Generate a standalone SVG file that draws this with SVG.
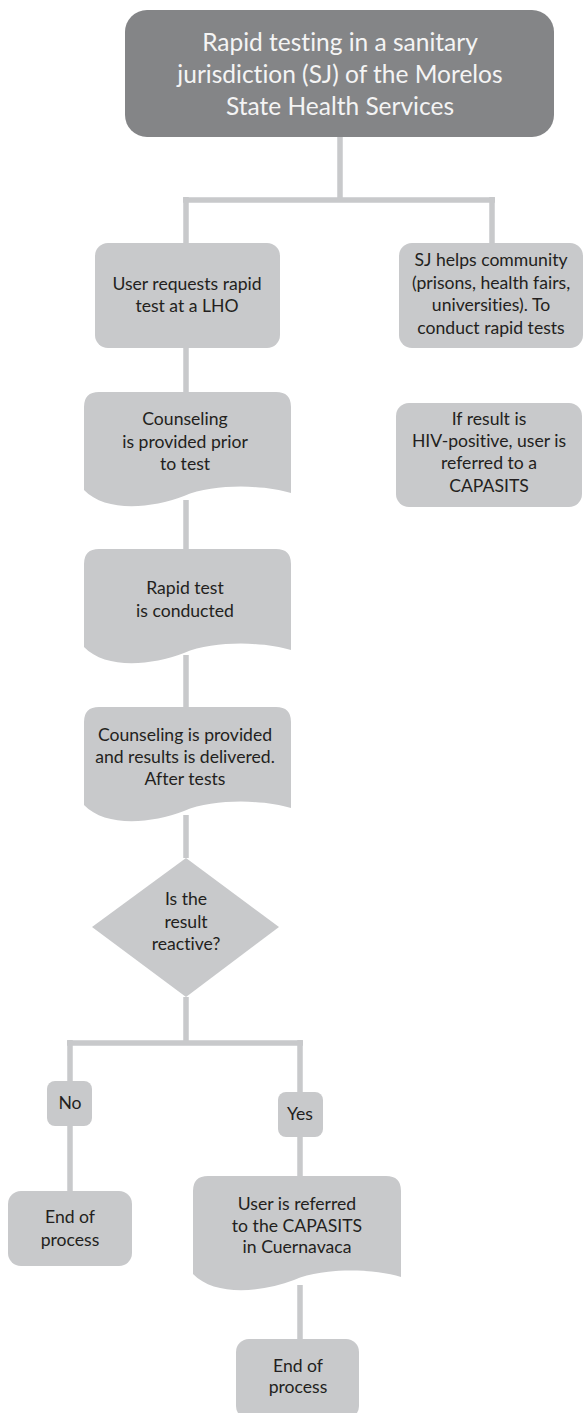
<svg xmlns="http://www.w3.org/2000/svg" width="583" height="1413" viewBox="0 0 583 1413">
<style>
.box{fill:#c8c9cb}
.dark{fill:#848587}
.t{font-family:Lato,"Liberation Sans",sans-serif;font-size:17.6px;fill:#231f20;text-anchor:middle;font-variant-ligatures:none}
.tw{font-family:Lato,"Liberation Sans",sans-serif;font-size:24.5px;fill:#f4f4f4;text-anchor:middle;font-variant-ligatures:none}
.c{stroke:#c8c9cb;stroke-width:5.5;fill:none}
</style>
<rect width="583" height="1413" fill="#ffffff"/>
<g id="connectors">
<path class="c" d="M340,137 V200 M183,200 H495 M186,197 V243 M492,197 V243"/>
<path class="c" d="M186,348 V392 M186,500 V549 M186,655 V707 M186,815 V858"/>
<path class="c" d="M186,997 V1043 M67,1043 H303 M70,1040 V1081 M300,1040 V1092"/>
<path class="c" d="M70,1126 V1191 M300,1137 V1176 M300,1285 V1339"/>
</g>
<g id="title">
<rect class="dark" x="125" y="10" width="429" height="127" rx="22"/>
<text class="tw" x="340" y="51">Rapid testing in a sanitary</text>
<text class="tw" x="340" y="83">jurisdiction (SJ) of the Morelos</text>
<text class="tw" x="340" y="115">State Health Services</text>
</g>
<g id="user-requests">
<rect class="box" x="95" y="243" width="185" height="105" rx="13"/>
<text class="t" x="187" y="290">User requests rapid</text>
<text class="t" x="187" y="312">test at a LHO</text>
</g>
<g id="sj-helps">
<rect class="box" x="399" y="243" width="184" height="105" rx="13"/>
<text class="t" x="491" y="266">SJ helps community</text>
<text class="t" x="491" y="289">(prisons, health fairs,</text>
<text class="t" x="491" y="311">universities). To</text>
<text class="t" x="491" y="334">conduct rapid tests</text>
</g>
<g id="if-result">
<rect class="box" x="396" y="403" width="186" height="104" rx="13"/>
<text class="t" x="489" y="425">If result is</text>
<text class="t" x="489" y="447">HIV-positive, user is</text>
<text class="t" x="489" y="469">referred to a</text>
<text class="t" x="489" y="492">CAPASITS</text>
</g>
<g id="counseling-prior">
<path class="box" d="M84,407 Q84,392 99,392 H276 Q291,392 291,407 V493 C265,485 215,483 184,496 C150,509 105,512 84,490 Z"/>
<text class="t" x="185" y="425">Counseling</text>
<text class="t" x="185" y="448">is provided prior</text>
<text class="t" x="185" y="470">to test</text>
</g>
<g id="rapid-test">
<path class="box" d="M84,564 Q84,549 99,549 H276 Q291,549 291,564 V650 C265,642 215,640 184,653 C150,666 105,669 84,647 Z"/>
<text class="t" x="185" y="594">Rapid test</text>
<text class="t" x="185" y="617">is conducted</text>
</g>
<g id="counseling-after">
<path class="box" d="M84,722 Q84,707 99,707 H276 Q291,707 291,722 V808 C265,800 215,798 184,811 C150,824 105,827 84,805 Z"/>
<text class="t" x="185" y="741">Counseling is provided</text>
<text class="t" x="185" y="763">and results is delivered.</text>
<text class="t" x="185" y="785">After tests</text>
</g>
<g id="decision">
<polygon class="box" points="186,858 279,927 186,997 92,927"/>
<text class="t" x="186" y="905">Is the</text>
<text class="t" x="186" y="928">result</text>
<text class="t" x="186" y="950">reactive?</text>
</g>
<g id="no">
<rect class="box" x="47" y="1081" width="45" height="45" rx="8"/>
<text class="t" x="70" y="1109">No</text>
</g>
<g id="yes">
<rect class="box" x="278" y="1092" width="45" height="45" rx="8"/>
<text class="t" x="300" y="1120">Yes</text>
</g>
<g id="end-no">
<rect class="box" x="8" y="1191" width="124" height="75" rx="13"/>
<text class="t" x="70" y="1223">End of</text>
<text class="t" x="70" y="1246">process</text>
</g>
<g id="referred">
<path class="box" d="M193,1191 Q193,1176 208,1176 H386 Q401,1176 401,1191 V1277 C375,1269 325,1267 294,1280 C260,1293 214,1296 193,1274 Z"/>
<text class="t" x="297" y="1210">User is referred</text>
<text class="t" x="297" y="1232">to the CAPASITS</text>
<text class="t" x="297" y="1253">in Cuernavaca</text>
</g>
<g id="end-yes">
<rect class="box" x="236" y="1339" width="123" height="80" rx="13"/>
<text class="t" x="298" y="1372">End of</text>
<text class="t" x="298" y="1393">process</text>
</g>
</svg>
